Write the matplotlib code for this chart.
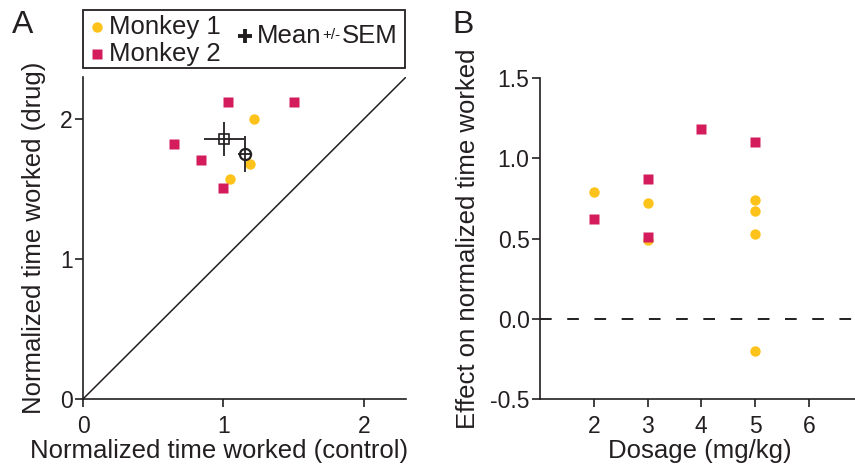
import matplotlib
matplotlib.use("Agg")
import matplotlib.pyplot as plt
from matplotlib.lines import Line2D
from matplotlib.patches import Rectangle
import numpy as np

plt.rcParams['font.family'] = ['Liberation Sans', 'DejaVu Sans']

# ---- Data ----
# Panel A: normalized time worked (control vs drug)
m1_control = [1.22, 1.19, 1.05]
m1_drug = [2.00, 1.68, 1.57]
m2_control = [1.03, 1.50, 0.65, 0.84, 1.00]
m2_drug = [2.12, 2.12, 1.82, 1.71, 1.51]
m1_sem_x, m1_sem_y = 0.05, 0.13
m2_sem_x, m2_sem_y = 0.143, 0.119

# Panel B: effect vs dosage
m1_dose = [2, 3, 3, 5, 5, 5, 5]
m1_effect = [0.79, 0.72, 0.49, 0.74, 0.67, 0.53, -0.20]
m2_dose = [2, 3, 3, 4, 5]
m2_effect = [0.62, 0.87, 0.51, 1.18, 1.10]

a_ticks = [0, 1, 2]
b_xticks = [2, 3, 4, 5, 6]
b_yticks = [-0.5, 0.0, 0.5, 1.0, 1.5]
b_yticklabels = ['-0.5', '0.0', '0.5', '1.0', '1.5']

YEL = '#FDC31A'
MAG = '#D41C5C'
DARK = '#231F20'

W, H = 855, 471
fig = plt.figure(figsize=(W / 100, H / 100), dpi=100)

def fx(px):
    return px / W

def fy(py):
    return 1 - py / H

LBL = 18.5
TCK = 16.5

# ---- Panel A ----
axA = fig.add_axes([fx(83), fy(399), fx(406) - fx(83), fy(77) - fy(399)])
axA.plot([0, 2.3], [0, 2.3], color=DARK, lw=1.1, zorder=1)
axA.plot(m1_control, m1_drug, 'o', color=YEL, ms=7.5, mec='none', zorder=3)
axA.plot(m2_control, m2_drug, 's', color=MAG, ms=6.5, mec='none', zorder=3)
axA.errorbar(np.mean(m2_control), np.mean(m2_drug), xerr=m2_sem_x, yerr=m2_sem_y,
             fmt='s', mfc='none', mec=DARK, ms=6.5, mew=1.2, ecolor=DARK,
             elinewidth=1.3, capsize=0, zorder=4)
axA.errorbar(np.mean(m1_control), np.mean(m1_drug), xerr=m1_sem_x, yerr=m1_sem_y,
             fmt='o', mfc='none', mec=DARK, ms=8, mew=1.6, ecolor=DARK,
             elinewidth=1.3, capsize=0, zorder=4)
axA.set_xlim(0, 2.3)
axA.set_ylim(0, 2.3)
axA.set_xticks(a_ticks)
axA.set_yticks(a_ticks)
axA.set_xticklabels([str(t) for t in a_ticks])
axA.set_yticklabels([str(t) for t in a_ticks])
axA.set_xlabel('Normalized time worked (control)', fontsize=LBL, color=DARK)
axA.set_ylabel('Normalized time worked (drug)', fontsize=LBL, labelpad=10, color=DARK)
axA.xaxis.set_label_coords(0.42, -0.125)

# ---- Panel B ----
axB = fig.add_axes([fx(540), fy(399), fx(855) - fx(540), fy(78) - fy(399)])
axB.axhline(0, color=DARK, lw=1.4, dashes=(6, 8), zorder=1)
axB.plot(m1_dose, m1_effect, 'o', color=YEL, ms=7.5, mec='none', zorder=3)
axB.plot(m2_dose, m2_effect, 's', color=MAG, ms=6.5, mec='none', zorder=3)
axB.set_xlim(1, 6.86)
axB.set_ylim(-0.5, 1.5)
axB.set_xticks(b_xticks)
axB.set_xticklabels([str(t) for t in b_xticks])
axB.set_yticks(b_yticks)
axB.set_yticklabels(b_yticklabels)
axB.set_xlabel('Dosage (mg/kg)', fontsize=LBL, color=DARK)
axB.set_ylabel('Effect on normalized time worked', fontsize=LBL, labelpad=7.5, color=DARK)
axB.xaxis.set_label_coords(0.508, -0.125)

for ax in (axA, axB):
    for s in ('top', 'right'):
        ax.spines[s].set_visible(False)
    for s in ('left', 'bottom'):
        ax.spines[s].set_linewidth(1.2)
        ax.spines[s].set_color(DARK)
    ax.tick_params(direction='out', length=5.5, width=1.2, labelsize=TCK,
                   colors=DARK)
    ax.tick_params(axis='x', pad=6)
    ax.tick_params(axis='y', pad=2)

# ---- Panel letters ----
fig.text(fx(12), fy(33), 'A', fontsize=23, color=DARK, ha='left', va='baseline')
fig.text(fx(452), fy(33), 'B', fontsize=23, color=DARK, ha='left', va='baseline')

# ---- Legend (manual) ----
fig.add_artist(Rectangle((fx(83), fy(68)), fx(405) - fx(83), fy(10) - fy(68),
                         transform=fig.transFigure, fill=False, ec=DARK, lw=1.3))
fig.add_artist(Line2D([fx(97)], [fy(27)], transform=fig.transFigure, marker='o',
                      color=YEL, ms=7.5, mec='none', ls='none'))
fig.add_artist(Line2D([fx(97)], [fy(54)], transform=fig.transFigure, marker='s',
                      color=MAG, ms=6.5, mec='none', ls='none'))
fig.text(fx(109), fy(27), 'Monkey 1', fontsize=18.5, color=DARK, va='center', ha='left')
fig.text(fx(109), fy(54), 'Monkey 2', fontsize=18.5, color=DARK, va='center', ha='left')
fig.add_artist(Line2D([fx(245)], [fy(36)], transform=fig.transFigure, marker='+',
                      color=DARK, ms=10, mew=2.8, ls='none'))
r = fig.canvas.get_renderer()
t1 = fig.text(fx(257), fy(43), 'Mean', fontsize=18.5, color=DARK, va='baseline', ha='left')
x1 = t1.get_window_extent(renderer=r).x1 / W
t2 = fig.text(x1 + 0.001, fy(43) + 0.008, '+/-', fontsize=11, color=DARK, va='baseline', ha='left')
x2 = t2.get_window_extent(renderer=r).x1 / W
fig.text(x2 + 0.001, fy(43), 'SEM', fontsize=18.5, color=DARK, va='baseline', ha='left')

fig.savefig('out.png', dpi=100)
